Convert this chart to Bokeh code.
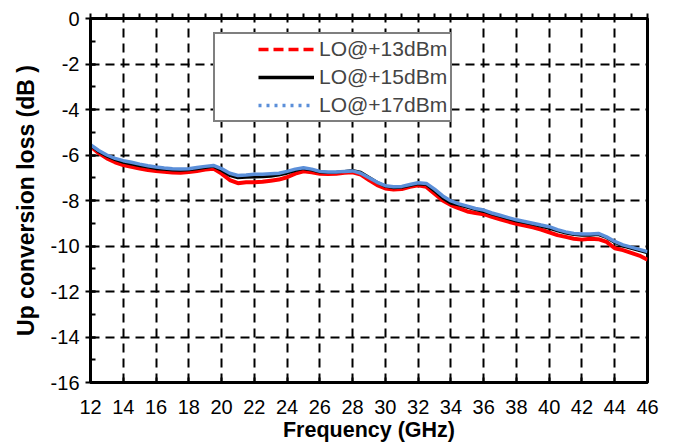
from bokeh.plotting import figure
from bokeh.models import (Range1d, SingleIntervalTicker, LinearAxis, Legend, LegendItem,
                          PrintfTickFormatter)
from bokeh.embed import file_html
from bokeh.resources import INLINE

freq = [12, 12.5, 13, 13.5, 14, 14.5, 15, 15.5, 16, 16.5, 17, 17.5, 18, 18.5, 19, 19.5,
        20, 20.5, 21, 21.5, 22, 22.5, 23, 23.5, 24, 24.5, 25, 25.5, 26, 26.5, 27, 27.5,
        28, 28.5, 29, 29.5, 30, 30.5, 31, 31.5, 32, 32.5, 33, 33.5, 34, 34.5, 35, 35.5,
        36, 36.5, 37, 37.5, 38, 38.5, 39, 39.5, 40, 40.5, 41, 41.5, 42, 42.5, 43, 43.5,
        44, 44.5, 45, 45.5, 46]

loss_lo17 = [-5.55, -5.8, -6.0, -6.15, -6.25, -6.32, -6.4, -6.47, -6.53, -6.57, -6.6, -6.62,
             -6.6, -6.55, -6.5, -6.46, -6.6, -6.8, -6.9, -6.88, -6.85, -6.85, -6.82, -6.8,
             -6.72, -6.62, -6.56, -6.62, -6.72, -6.75, -6.75, -6.72, -6.7, -6.8, -7.0, -7.2,
             -7.35, -7.4, -7.38, -7.3, -7.22, -7.25, -7.5, -7.8, -8.02, -8.15, -8.25, -8.35,
             -8.42, -8.55, -8.65, -8.75, -8.85, -8.92, -9.0, -9.08, -9.15, -9.28, -9.38, -9.45,
             -9.47, -9.47, -9.45, -9.6, -9.8, -9.95, -10.05, -10.15, -10.25]

loss_lo15 = [-5.58, -5.85, -6.05, -6.2, -6.32, -6.4, -6.47, -6.53, -6.6, -6.63, -6.66, -6.67,
             -6.65, -6.6, -6.55, -6.5, -6.68, -6.9, -7.0, -6.98, -6.97, -6.96, -6.93, -6.88,
             -6.8, -6.68, -6.6, -6.66, -6.75, -6.77, -6.76, -6.72, -6.68, -6.76, -6.98, -7.2,
             -7.38, -7.44, -7.42, -7.34, -7.27, -7.3, -7.58, -7.9, -8.12, -8.2, -8.3, -8.4,
             -8.48, -8.6, -8.7, -8.8, -8.9, -8.97, -9.05, -9.13, -9.22, -9.33, -9.43, -9.5,
             -9.53, -9.53, -9.5, -9.63, -9.84, -10.0, -10.1, -10.2, -10.3]

loss_lo13 = [-5.62, -5.92, -6.15, -6.32, -6.44, -6.52, -6.6, -6.66, -6.7, -6.74, -6.77, -6.78,
             -6.75, -6.7, -6.64, -6.6, -6.82, -7.1, -7.24, -7.2, -7.2, -7.18, -7.13, -7.08,
             -6.98, -6.82, -6.72, -6.76, -6.82, -6.84, -6.82, -6.78, -6.76, -6.86, -7.1, -7.32,
             -7.47, -7.52, -7.5, -7.4, -7.33, -7.4, -7.7, -8.0, -8.2, -8.35, -8.48, -8.55,
             -8.6, -8.72, -8.83, -8.93, -9.02, -9.1, -9.18, -9.28, -9.4, -9.52, -9.6, -9.68,
             -9.72, -9.68, -9.7, -9.82, -10.1, -10.18, -10.3, -10.42, -10.6]

labels = ["LO@+13dBm", "LO@+15dBm", "LO@+17dBm"]

FONT = "Liberation Sans"
RED = "#ff0000"
BLUE = "#5b8fd9"

p = figure(width=676, height=446, output_backend="svg", toolbar_location=None,
           x_range=Range1d(12, 46), y_range=Range1d(-16, 0),
           min_border_left=90, min_border_right=29, min_border_top=18, min_border_bottom=64)
p.background_fill_color = "white"
p.border_fill_color = "white"
p.outline_line_color = "black"
p.outline_line_width = 3

xt = SingleIntervalTicker(interval=2, num_minor_ticks=0)
yt = SingleIntervalTicker(interval=2, num_minor_ticks=2)
p.xaxis.ticker = xt
p.yaxis.ticker = yt
p.xgrid.ticker = xt
p.ygrid.ticker = yt
p.yaxis.formatter = PrintfTickFormatter(format="%d")
p.xaxis.formatter = PrintfTickFormatter(format="%d")

for g in (p.xgrid, p.ygrid):
    g.grid_line_color = "black"
    g.grid_line_width = 2
    g.grid_line_dash = "9 6"

for ax in (p.xaxis, p.yaxis):
    ax.axis_line_width = 3
    ax.major_tick_line_width = 2
    ax.minor_tick_line_width = 2
    ax.major_label_text_font = FONT
    ax.major_label_text_font_size = "20px"
    ax.major_label_text_color = "black"
    ax.axis_label_text_font = FONT
    ax.axis_label_text_font_style = "bold"
    ax.axis_label_text_color = "black"

p.xaxis.axis_label = "Frequency (GHz)"
p.xaxis.axis_label_text_font_size = "21.5px"
p.xaxis.major_tick_in = 5
p.xaxis.major_tick_out = 0
p.xaxis.minor_tick_in = 0
p.xaxis.minor_tick_out = 0
p.xaxis.major_label_standoff = 17
p.xaxis.axis_label_standoff = 1

p.yaxis.axis_label = "Up conversion loss (dB )"
p.yaxis.axis_label_text_font_size = "23px"
p.yaxis.major_tick_in = 5
p.yaxis.major_tick_out = 5
p.yaxis.minor_tick_in = 5
p.yaxis.minor_tick_out = 0
p.yaxis.major_label_standoff = 6
p.yaxis.axis_label_standoff = 9

top = LinearAxis(ticker=SingleIntervalTicker(interval=1, num_minor_ticks=0),
                 major_tick_out=5, major_tick_in=0, major_tick_line_width=2,
                 minor_tick_out=0, minor_tick_in=0, axis_line_width=3,
                 major_label_text_font_size="0px", major_label_standoff=0)
p.add_layout(top, "above")

r13 = p.line(freq, loss_lo13, line_color=RED, line_width=4)
r15 = p.line(freq, loss_lo15, line_color="black", line_width=3)
r17 = p.line(freq, loss_lo17, line_color=BLUE, line_width=3.5)

# legend-only renderers: one point each (draw nothing in the plot);
# dash patterns start with a blank so the legend glyph sits further right
l13 = p.line(freq[:1], loss_lo13[:1], line_color=RED, line_width=3.5,
             line_dash="0 40 10 5 10 5 10 5 10 200")
l15 = p.line(freq[:1], loss_lo15[:1], line_color="black", line_width=3.5,
             line_dash="0 40 56 200")
l17 = p.line(freq[:1], loss_lo17[:1], line_color=BLUE, line_width=3.5,
             line_dash="0 40 3 5 3 5 3 5 3 5 3 5 3 5 3 5 3 200")

legend = Legend(items=[LegendItem(label=labels[0], renderers=[l13]),
                       LegendItem(label=labels[1], renderers=[l15]),
                       LegendItem(label=labels[2], renderers=[l17])],
                location=(123, 260), glyph_width=96, glyph_height=24,
                label_height=24, label_standoff=5, spacing=4, padding=3,
                label_text_font=FONT, label_text_font_size="21px",
                border_line_color="black", border_line_width=2,
                background_fill_color="white", background_fill_alpha=1.0)
p.add_layout(legend, "center")

open("out.html", "w").write(file_html(p, INLINE))
